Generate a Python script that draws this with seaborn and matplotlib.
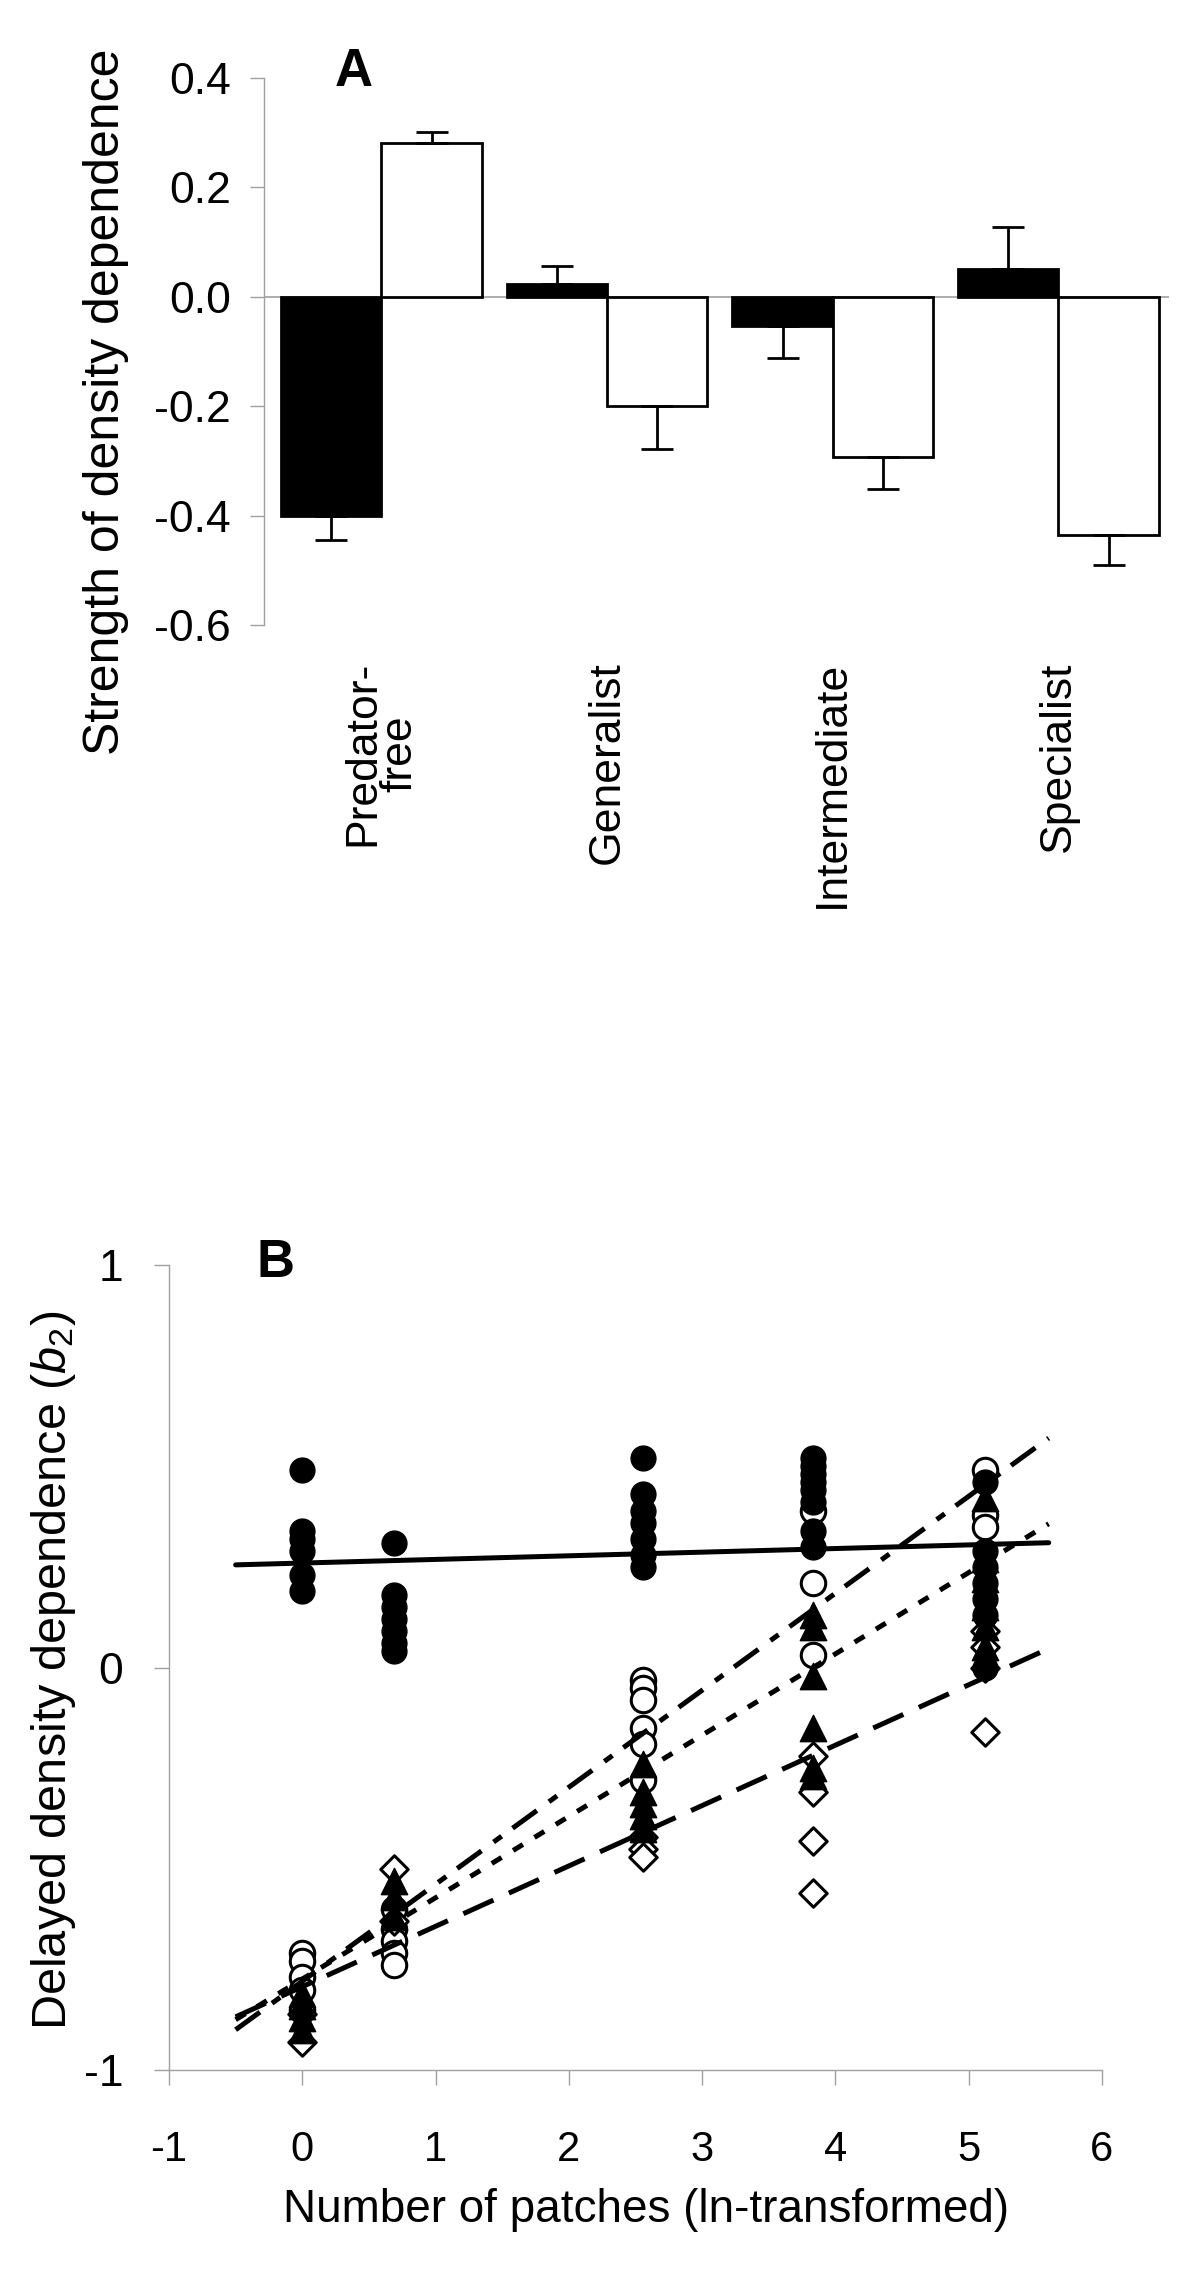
import numpy as np
import pandas as pd
import matplotlib
matplotlib.use("Agg")
import matplotlib.pyplot as plt
import matplotlib.transforms as mtransforms
import seaborn as sns

# ---------------- Panel A data ----------------
categories = ["Predator-\nfree", "Generalist", "Intermediate", "Specialist"]
series_names = ["Direct (b1)", "Delayed (b2)"]
direct_mean = [-0.400, 0.023, -0.054, 0.050]
direct_se = [0.045, 0.033, 0.058, 0.077]
delayed_mean = [0.282, -0.199, -0.292, -0.436]
delayed_se = [0.020, 0.079, 0.060, 0.054]
a_yticks = [0.4, 0.2, 0.0, -0.2, -0.4, -0.6]

# ---------------- Panel B data ----------------
patch_x = [0.0, 0.69, 2.56, 3.83, 5.12]
predfree_y = [
    [0.49, 0.34, 0.32, 0.29, 0.23, 0.19],
    [0.31, 0.18, 0.15, 0.12, 0.09, 0.06, 0.04],
    [0.52, 0.43, 0.39, 0.36, 0.32, 0.28, 0.25],
    [0.52, 0.50, 0.48, 0.46, 0.44, 0.41, 0.34, 0.30],
    [0.46, 0.29, 0.25, 0.21, 0.17, 0.13, 0.00],
]
generalist_y = [
    [-0.71, -0.73, -0.77, -0.80, -0.85],
    [-0.60, -0.65, -0.68, -0.71, -0.74],
    [-0.03, -0.05, -0.08, -0.15, -0.19, -0.28],
    [0.39, 0.21, 0.03],
    [0.49, 0.38, 0.35],
]
intermediate_y = [
    [-0.81, -0.84, -0.87, -0.90],
    [-0.53, -0.57, -0.62],
    [-0.24, -0.31, -0.34, -0.37, -0.40],
    [0.13, 0.10, -0.02, -0.15, -0.25, -0.27],
    [0.42, 0.27, 0.22, 0.15, 0.10, 0.05],
]
specialist_y = [
    [-0.86, -0.93],
    [-0.50, -0.63],
    [-0.42, -0.45, -0.47],
    [-0.22, -0.31, -0.43, -0.56],
    [0.09, 0.05, 0.00, -0.16],
]
# fitted lines (end points)
fit_x = [-0.5, 5.6]
predfree_fit = [0.255, 0.310]
generalist_fit = [-0.900, 0.570]
intermediate_fit = [-0.875, 0.357]
specialist_fit = [-0.868, 0.047]
b_xticks = [-1, 0, 1, 2, 3, 4, 5, 6]
b_yticks = [-1, 0, 1]

# ---------------- style ----------------
sns.set_theme(style="white")
plt.rcParams["font.family"] = ["Liberation Sans", "DejaVu Sans"]
plt.rcParams["axes.unicode_minus"] = False
plt.rcParams["mathtext.fontset"] = "custom"
plt.rcParams["mathtext.rm"] = "Liberation Sans"
plt.rcParams["mathtext.it"] = "Liberation Sans:italic"
plt.rcParams["text.color"] = "black"
plt.rcParams["axes.labelcolor"] = "black"
plt.rcParams["xtick.color"] = "black"
plt.rcParams["ytick.color"] = "black"
GRAY = "#a0a0a0"

W, H = 1200, 2270
fig = plt.figure(figsize=(W / 100, H / 100), dpi=100)
fig.patch.set_facecolor("white")


def box(l, t, r, b):
    return [l / W, 1 - b / H, (r - l) / W, (b - t) / H]


# ================= Panel A =================
axA = fig.add_axes(box(264, 78, 1169, 625))
dfA = pd.DataFrame({
    "category": categories * 2,
    "series": [series_names[0]] * 4 + [series_names[1]] * 4,
    "value": direct_mean + delayed_mean,
})
sns.barplot(data=dfA, x="category", y="value", hue="series",
            hue_order=series_names, order=categories,
            palette=["black", "white"], saturation=1,
            edgecolor="black", linewidth=2, width=0.89, gap=0,
            errorbar=None, legend=False, ax=axA, zorder=2)

means = direct_mean + delayed_mean
ses = direct_se + delayed_se
bars = [p for p in axA.patches][:8]
xc = [p.get_x() + p.get_width() / 2 for p in bars]
lower = [s if m < 0 else 0 for m, s in zip(means, ses)]
upper = [s if m >= 0 else 0 for m, s in zip(means, ses)]
axA.errorbar(xc, means, yerr=[lower, upper], fmt="none", ecolor="black",
             elinewidth=2, capsize=11.5, capthick=2, zorder=3)

axA.axhline(0, color=GRAY, lw=1.2, zorder=1)
axA.set_xlim(-0.52, 3.49)
axA.set_ylim(-0.6, 0.4)
axA.set_yticks(a_yticks)
axA.set_yticklabels([f"{v:.1f}" for v in a_yticks], fontsize=32)
axA.set_xticks(range(len(categories)))
axA.set_xticklabels(categories, rotation=90, va="top", ha="center",
                    multialignment="center", fontsize=32, linespacing=0.9)
# the two-line label sits slightly left of its group centre in the reference
first_lbl = axA.get_xticklabels()[0]
first_lbl.set_transform(first_lbl.get_transform() +
                        mtransforms.ScaledTranslation(-10 / 100, 0, fig.dpi_scale_trans))
axA.tick_params(axis="x", length=0, pad=26, colors="black")
axA.tick_params(axis="y", direction="out", length=10, width=1, color=GRAY,
                labelcolor="black", pad=14, left=True)
for s in ["top", "right", "bottom"]:
    axA.spines[s].set_visible(False)
axA.spines["left"].set_color(GRAY)
axA.spines["left"].set_linewidth(1)
axA.set_xlabel("")
axA.set_ylabel("")
axA.set_facecolor("white")

fig.text(106 / W, 1 - 402 / H, "Strength of density dependence",
         rotation=90, ha="center", va="center", fontsize=36, color="black")
fig.text(354 / W, 1 - 72 / H, "A", ha="center", va="center",
         fontsize=38, fontweight="bold", color="black")

# ================= Panel B =================
axB = fig.add_axes(box(169, 1265, 1102, 2070))


def long_form(yvals):
    xs, ys = [], []
    for x, col in zip(patch_x, yvals):
        xs += [x] * len(col)
        ys += col
    return pd.DataFrame({"x": xs, "y": ys})


sns.scatterplot(data=long_form(generalist_y), x="x", y="y", marker="o",
                s=310, color="white", edgecolor="black", linewidth=2.2,
                ax=axB, zorder=3)
sns.scatterplot(data=long_form(specialist_y), x="x", y="y", marker="D",
                s=195, color="white", edgecolor="black", linewidth=2.2,
                ax=axB, zorder=3)
sns.scatterplot(data=long_form(intermediate_y), x="x", y="y", marker="^",
                s=360, color="black", edgecolor="black", linewidth=1,
                ax=axB, zorder=3)
sns.scatterplot(data=long_form(predfree_y), x="x", y="y", marker="o",
                s=320, color="black", edgecolor="black", linewidth=1,
                ax=axB, zorder=3)

LW = 3.6
axB.plot(fit_x, predfree_fit, color="black", lw=LW, ls="-", zorder=4)
axB.plot(fit_x, generalist_fit, color="black", lw=LW,
         ls=(0, (6.0, 3.0, 2.0, 2.7)), zorder=4)
axB.plot(fit_x, intermediate_fit, color="black", lw=LW,
         ls=(0, (2.3, 2.7)), zorder=4)
axB.plot(fit_x, specialist_fit, color="black", lw=LW,
         ls=(0, (6.6, 3.4)), zorder=4)

axB.set_xlim(-1, 6)
axB.set_ylim(-1, 1)
axB.set_xticks(b_xticks)
axB.set_xticklabels([str(v) for v in b_xticks], fontsize=30)
axB.set_yticks(b_yticks)
axB.set_yticklabels([str(v) for v in b_yticks], fontsize=32)
axB.tick_params(axis="x", direction="out", length=11, width=1, color=GRAY,
                labelcolor="black", pad=32, bottom=True)
axB.tick_params(axis="y", direction="out", length=11, width=1, color=GRAY,
                labelcolor="black", pad=22, left=True)
for s in ["top", "right"]:
    axB.spines[s].set_visible(False)
for s in ["left", "bottom"]:
    axB.spines[s].set_color(GRAY)
    axB.spines[s].set_linewidth(1)
axB.set_xlabel("")
axB.set_ylabel("")
axB.set_facecolor("white")

fig.text(54 / W, 1 - 1670 / H, r"Delayed density dependence ($\mathit{b}_{2}$)",
         rotation=90, ha="center", va="center", fontsize=35, color="black")
fig.text(646 / W, 1 - 2210 / H, "Number of patches (ln-transformed)",
         ha="center", va="center", fontsize=33, color="black")
fig.text(276 / W, 1 - 1263 / H, "B", ha="center", va="center",
         fontsize=38, fontweight="bold", color="black")

fig.savefig("out.png", dpi=100, facecolor="white")
